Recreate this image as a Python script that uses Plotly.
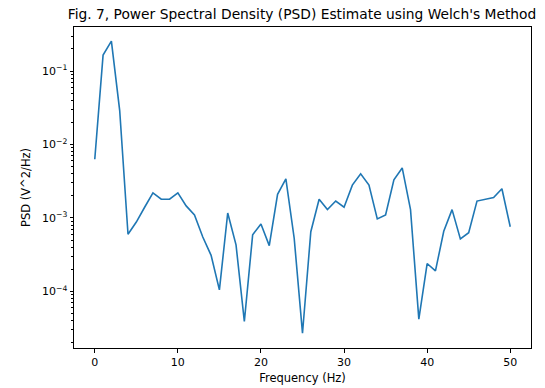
import plotly.graph_objects as go

freqs = list(range(51))
psd = [0.0063, 0.165, 0.255, 0.029, 0.00060, 0.00088, 0.0014, 0.0022, 0.0018, 0.0018,
       0.0022, 0.00146, 0.0011, 0.00055, 0.00031, 0.000105, 0.00117, 0.00043, 0.000039, 0.00059,
       0.00083, 0.00042, 0.0021, 0.0034, 0.00053, 0.000027, 0.00065, 0.0018, 0.0013, 0.0017,
       0.0014, 0.0028, 0.0040, 0.0028, 0.00097, 0.0011, 0.0033, 0.0048, 0.0013, 0.000042,
       0.00024, 0.00019, 0.00066, 0.0013, 0.00052, 0.00063, 0.0017, 0.0018, 0.0019, 0.0025,
       0.00076]

title = "Fig. 7, Power Spectral Density (PSD) Estimate using Welch's Method"
xlabel = "Frequency (Hz)"
ylabel = "PSD (V^2/Hz)"
xtickvals = [0, 10, 20, 30, 40, 50]
ytickvals = [1e-4, 1e-3, 1e-2, 1e-1]
yticktext = ["10<sup>−4</sup>", "10<sup>−3</sup>", "10<sup>−2</sup>", "10<sup>−1</sup>"]
decades = [1e-5, 1e-4, 1e-3, 1e-2, 1e-1]
minor_vals = [m * d for d in decades for m in range(2, 10)]

fig = go.Figure(go.Scatter(x=freqs, y=psd, mode="lines",
                           line=dict(color="#1f77b4", width=1.6)))

font = "DejaVu Sans"
fig.update_layout(
    width=545, height=388,
    margin=dict(l=74, r=14, t=27, b=40),
    paper_bgcolor="white", plot_bgcolor="white",
    showlegend=False,
    font=dict(family=font, size=11, color="black"),
    title=dict(text=title, x=302 / 545, xanchor="center",
               y=1 - 14 / 388, yanchor="middle", font=dict(size=13.8, family=font)),
    xaxis=dict(range=[-2.5, 52.5], tickvals=xtickvals, automargin=False,
               showline=True, mirror=True, linecolor="black", linewidth=1,
               ticks="outside", ticklen=3.5, tickcolor="black", showgrid=False,
               zeroline=False,
               title=dict(text=xlabel, standoff=6, font=dict(size=11.5))),
    yaxis=dict(type="log", range=[-4.77, -0.40], tickvals=ytickvals, ticktext=yticktext,
               automargin=False,
               showline=True, mirror=True, linecolor="black", linewidth=1,
               ticks="outside", ticklen=3.5, tickcolor="black", showgrid=False,
               zeroline=False,
               minor=dict(ticks="outside", ticklen=2, tickcolor="black", showgrid=False,
                          tickvals=minor_vals),
               title=dict(text=ylabel, standoff=8, font=dict(size=11.5))),
)

fig.write_html("out.html")
